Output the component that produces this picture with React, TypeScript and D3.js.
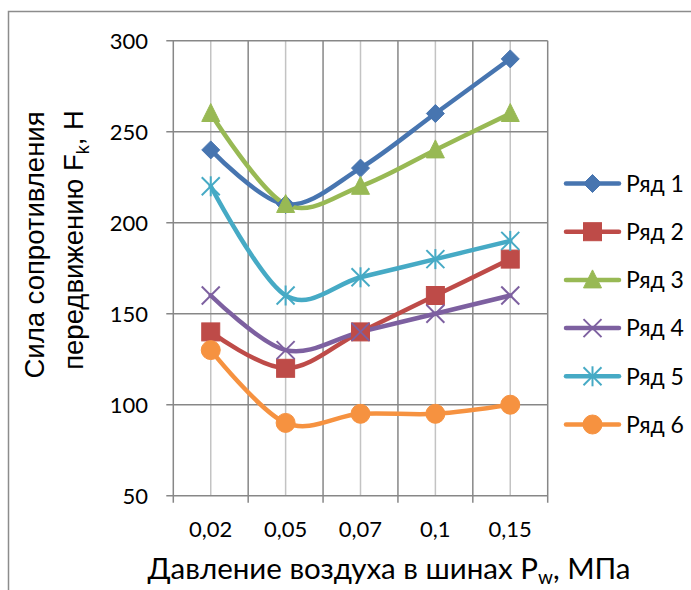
import React from 'react';
import * as d3 from 'd3';

const categories = ['0,02', '0,05', '0,07', '0,1', '0,15'];
const seriesNames = ['Ряд 1', 'Ряд 2', 'Ряд 3', 'Ряд 4', 'Ряд 5', 'Ряд 6'];
const series1 = [240, 210, 230, 260, 290];
const series2 = [140, 120, 140, 160, 180];
const series3 = [260, 210, 220, 240, 260];
const series4 = [160, 130, 140, 150, 160];
const series5 = [220, 160, 170, 180, 190];
const series6 = [130, 90, 95, 95, 100];
const yTicks = [50, 100, 150, 200, 250, 300];
const colors = ['#4775B0', '#BE4B48', '#98B954', '#7D60A0', '#46AAC5', '#F69240'];
const markerTypes = ['diamond', 'square', 'triangle', 'x', 'star', 'circle'];

const allSeries = [series1, series2, series3, series4, series5, series6];

function Marker({ type, cx, cy, color, s = 1 }: { type: string; cx: number; cy: number; color: string; s?: number }) {
  const h = 9 * s;
  switch (type) {
    case 'diamond':
      return <path d={`M${cx},${cy - h}L${cx + h},${cy}L${cx},${cy + h}L${cx - h},${cy}Z`} fill={color} stroke={color} strokeWidth={1} />;
    case 'square':
      return <rect x={cx - h} y={cy - h} width={2 * h} height={2 * h} fill={color} stroke={color} strokeWidth={1} />;
    case 'triangle':
      return <path d={`M${cx},${cy - 10 * s}L${cx + h},${cy + 8 * s}L${cx - h},${cy + 8 * s}Z`} fill={color} stroke={color} strokeWidth={1} />;
    case 'x':
      return (
        <g stroke={color} strokeWidth={2}>
          <line x1={cx - h} y1={cy - h} x2={cx + h} y2={cy + h} />
          <line x1={cx - h} y1={cy + h} x2={cx + h} y2={cy - h} />
        </g>
      );
    case 'star':
      return (
        <g stroke={color} strokeWidth={2}>
          <line x1={cx - h} y1={cy - h} x2={cx + h} y2={cy + h} />
          <line x1={cx - h} y1={cy + h} x2={cx + h} y2={cy - h} />
          <line x1={cx} y1={cy - h - 1} x2={cx} y2={cy + h + 1} />
        </g>
      );
    default:
      return <circle cx={cx} cy={cy} r={9.5 * s} fill={color} stroke={color} strokeWidth={1} />;
  }
}

export default function App() {
  const W = 691;
  const H = 590;
  const left = 173.3;
  const right = 547.7;
  const top = 40.7;
  const bottom = 495.7;

  const x = d3.scaleBand<string>().domain(categories).range([left, right]).paddingInner(0).paddingOuter(0);
  const y = d3.scaleLinear().domain([50, 300]).range([bottom, top]);
  const cx = (c: string) => (x(c) as number) + x.bandwidth() / 2;

  const line = d3
    .line<number>()
    .x((_, i) => cx(categories[i]))
    .y((d) => y(d))
    .curve(d3.curveCardinal.tension(0));

  const boundaries = categories.map((c) => x(c) as number).concat([right]);
  const gridDark = '#878787';
  const gridLight = '#C3C3C3';
  const calibri = "Lato, 'Open Sans', sans-serif";
  const arial = "'Liberation Sans', Arial, sans-serif";

  const legendY0 = 183.5;
  const legendStep = 48.2;

  return (
    <svg width={W} height={H} style={{ position: 'absolute', left: 0, top: 0, background: '#fff' }}>
      <rect x={0} y={0} width={W} height={H} fill="#fff" />
      {/* outer chart border */}
      <path d={`M${W + 5},11.5 L8.5,11.5 L8.5,${H + 5}`} fill="none" stroke="#8C8C8C" strokeWidth={1.5} />

      {/* minor vertical gridlines at category centers */}
      {categories.map((c) => (
        <line key={'mv' + c} x1={cx(c)} x2={cx(c)} y1={top} y2={bottom} stroke={gridLight} strokeWidth={1.5} />
      ))}
      {/* major vertical gridlines at boundaries */}
      {boundaries.map((b, i) => (
        <line key={'bv' + i} x1={b} x2={b} y1={top} y2={bottom + 7} stroke={gridDark} strokeWidth={1.5} />
      ))}
      {/* horizontal gridlines */}
      {yTicks.map((t) => (
        <line key={'h' + t} x1={left - 7} x2={right} y1={y(t)} y2={y(t)} stroke={gridDark} strokeWidth={1.5} />
      ))}

      {/* y tick labels */}
      {yTicks.map((t) => (
        <text key={'yl' + t} x={148} y={y(t)} dy="0.36em" textAnchor="end" fontFamily={calibri} fontSize={22} fill="#000">
          {t}
        </text>
      ))}
      {/* x tick labels */}
      {categories.map((c) => (
        <text key={'xl' + c} x={cx(c)} y={537} textAnchor="middle" fontFamily={calibri} fontSize={22} fill="#000">
          {c}
        </text>
      ))}

      {/* series lines */}
      {allSeries.map((s, i) => (
        <path key={'l' + i} d={line(s) || ''} fill="none" stroke={colors[i]} strokeWidth={4.5} strokeLinejoin="round" strokeLinecap="round" />
      ))}
      {/* markers */}
      {allSeries.map((s, i) => (
        <g key={'m' + i}>
          {s.map((v, j) => (
            <Marker key={j} type={markerTypes[i]} cx={cx(categories[j])} cy={y(v)} color={colors[i]} />
          ))}
        </g>
      ))}

      {/* legend */}
      {seriesNames.map((n, i) => {
        const ly = legendY0 + i * legendStep;
        return (
          <g key={'lg' + i}>
            <line x1={566} x2={619} y1={ly} y2={ly} stroke={colors[i]} strokeWidth={4.5} strokeLinecap="round" />
            <Marker type={markerTypes[i]} cx={592.5} cy={ly} color={colors[i]} />
            <text x={626} y={ly} dy="0.36em" fontFamily={calibri} fontSize={23} fill="#000">
              {n}
            </text>
          </g>
        );
      })}

      {/* x axis title */}
      <text x={389} y={579} textAnchor="middle" fontFamily={calibri} fontSize={29.5} fill="#000">
        Давление воздуха в шинах P
        <tspan fontSize={19} dy={5}>w</tspan>
        <tspan dy={-5}>, МПа</tspan>
      </text>

      {/* y axis title */}
      <text transform="translate(44,245) rotate(-90)" textAnchor="middle" fontFamily={arial} fontSize={27.5} fill="#000">
        Сила сопротивления
      </text>
      <text transform="translate(83,240) rotate(-90)" textAnchor="middle" fontFamily={arial} fontSize={27.5} fill="#000">
        передвижению F
        <tspan fontSize={18} dy={6}>k</tspan>
        <tspan dy={-6}>, Н</tspan>
      </text>
    </svg>
  );
}
